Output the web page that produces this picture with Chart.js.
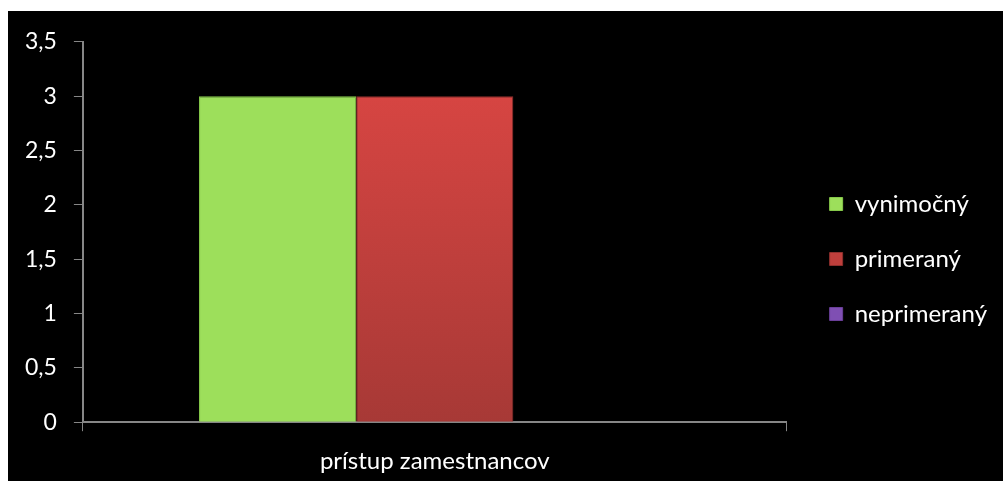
<!DOCTYPE html>
<html>
<head>
<meta charset="utf-8">
<script src="https://cdn.jsdelivr.net/npm/chart.js@4/dist/chart.umd.min.js"></script>
<style>
  html, body { margin: 0; padding: 0; background: #fff; overflow: hidden; }
  #wrap { position: absolute; left: 8px; top: 11px; width: 995px; height: 470px; background: #000; overflow: hidden; }
</style>
</head>
<body>
<div id="wrap"><canvas id="chart" width="995" height="481"></canvas></div>
<script>
// --- chart data ---
const categories = ['prístup zamestnancov'];
const seriesNames = ['vynimočný', 'primeraný', 'neprimeraný'];
const vynimocny = [3];
const primerany = [3];
const neprimerany = [0];
const yTicks = [0, 0.5, 1, 1.5, 2, 2.5, 3, 3.5];

const FONT = 'Lato, Calibri, sans-serif';

function vGrad(ctx, top, bottom) {
  const area = ctx.chart.chartArea;
  if (!area) return top;
  const g = ctx.chart.ctx.createLinearGradient(0, area.top, 0, area.bottom);
  g.addColorStop(0, top);
  g.addColorStop(1, bottom);
  return g;
}

// extra room between plot and legend, legend nudged up a bit
const legendGap = {
  id: 'legendGap',
  afterInit(chart) {
    const lg = chart.legend;
    const fit = lg.fit.bind(lg);
    lg.fit = () => { fit(); lg.width += 12; };
  },
  afterLayout(chart) {
    chart.legend.left += 12;
    chart.legend.top -= 5;
    chart.legend.bottom -= 5;
  }
};

const barOpts = { categoryPercentage: 0.67, barPercentage: 1, borderWidth: 1 };

const ctx = document.getElementById('chart').getContext('2d');
new Chart(ctx, {
  type: 'bar',
  data: {
    labels: categories,
    datasets: [
      { label: seriesNames[0], data: vynimocny, backgroundColor: '#9ddf5b', borderColor: '#86c94a', ...barOpts },
      { label: seriesNames[1], data: primerany, backgroundColor: c => vGrad(c, '#de4744', '#a73936'), borderColor: '#8e2f2d', ...barOpts },
      { label: seriesNames[2], data: neprimerany, backgroundColor: '#7f4fb3', borderColor: '#6a3f99', ...barOpts }
    ]
  },
  plugins: [legendGap],
  options: {
    responsive: false,
    animation: false,
    layout: { padding: { top: 25, right: 6, left: 0, bottom: 0 } },
    plugins: {
      legend: {
        position: 'right',
        labels: {
          color: '#fff',
          font: { family: FONT, size: 24 },
          boxWidth: 13,
          boxHeight: 13,
          padding: 31
        }
      },
      tooltip: { enabled: false }
    },
    scales: {
      x: {
        offset: true,
        grid: { offset: true, drawOnChartArea: false, color: '#868686', tickLength: 9 },
        border: { color: '#868686', width: 2 },
        ticks: { color: '#fff', font: { family: FONT, size: 24 }, padding: 16 }
      },
      y: {
        min: 0, max: 3.5,
        afterBuildTicks: axis => { axis.ticks = yTicks.map(v => ({ value: v })); },
        grid: { drawOnChartArea: false, color: '#868686', tickLength: 9 },
        border: { color: '#868686', width: 2 },
        ticks: {
          color: '#fff',
          font: { family: FONT, size: 23 },
          padding: 17,
          callback: v => String(v).replace('.', ',')
        }
      }
    }
  }
});
</script>
</body>
</html>
